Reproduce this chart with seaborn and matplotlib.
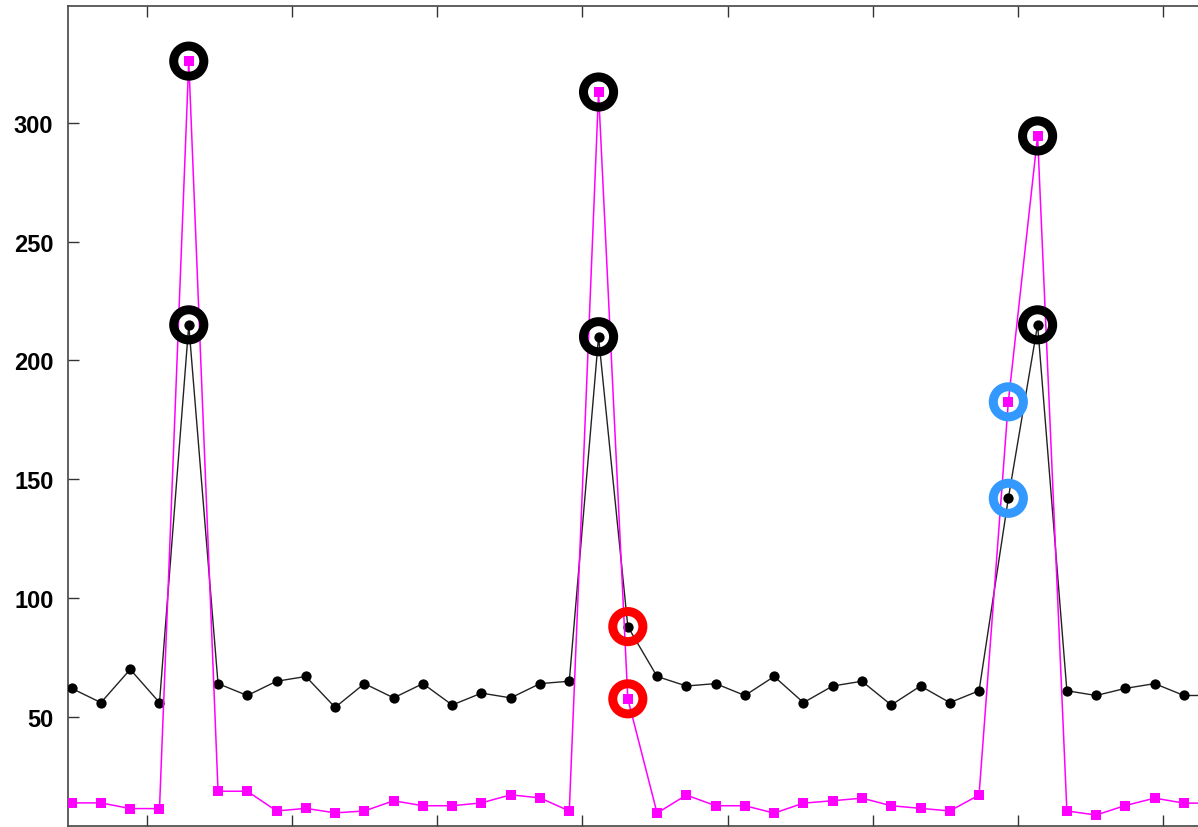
import numpy as np
import matplotlib
matplotlib.use("Agg")
import matplotlib.pyplot as plt
import seaborn as sns

# Two pulse-shaped signals sampled at regular steps
black_vals = [62, 56, 70, 56, 215, 64, 59, 65, 67, 54, 64, 58, 64, 55, 60, 58, 64, 65,
              210, 88, 67, 63, 64, 59, 67, 56, 63, 65, 55, 63, 56, 61, 142, 215, 61, 59,
              62, 64, 59, 59]
magenta_vals = [13.8, 13.8, 11.4, 11.4, 326, 18.7, 18.7, 10.4, 11.5, 9.6, 10.4, 14.7,
                12.6, 12.6, 13.8, 17.2, 15.9, 10.4, 313, 57.6, 9.5, 17.1, 12.6, 12.6, 9.5,
                13.7, 14.7, 15.8, 12.6, 11.5, 10.4, 17.1, 182.6, 294.5, 10.4, 8.7, 12.7,
                15.8, 13.7, 13.7]
samples = list(range(len(black_vals)))

# Highlighted samples: peaks (black), transition (red), rising edge (blue)
peak_idx = [4, 18, 33]
red_idx = [19]
blue_idx = [32]

y_ticks = [50, 100, 150, 200, 250, 300]

sns.set_style("ticks")
plt.rcParams["font.family"] = ["Liberation Sans", "DejaVu Sans"]

fig = plt.figure(figsize=(11.98, 8.28), dpi=100)
ax = fig.add_axes([68 / 1198, 1.3 / 828, 1 - 68 / 1198, (826.7 - 7) / 828])

sns.lineplot(x=samples, y=black_vals, ax=ax, color="#222222", linewidth=1.0,
             marker="o", markersize=7.4, markeredgewidth=0, markerfacecolor="black",
             zorder=3)
sns.lineplot(x=samples, y=magenta_vals, ax=ax, color="#ff00ff", linewidth=1.1,
             marker="s", markersize=7.4, markeredgewidth=0, markerfacecolor="#ff00ff",
             zorder=4)

ring_kw = dict(s=470, facecolors="none", linewidths=6.5, zorder=6, clip_on=False)
for idxs, color in [(peak_idx, "black"), (red_idx, "#ff0000"), (blue_idx, "#3399ff")]:
    for series in (black_vals, magenta_vals):
        ax.scatter([samples[i] for i in idxs], [series[i] for i in idxs],
                   edgecolors=color, **ring_kw)

ax.set_xlim(-0.126, 38.48)
ax.set_ylim(4.2, 349.2)
ax.set_yticks(y_ticks)
ax.set_xticks(np.arange(2.56, 38.4, 4.963))
ax.set_xticklabels([])
ax.tick_params(axis="both", direction="in", length=8, width=1.0, color="#333333",
               top=True, bottom=True, left=True, right=False)
ax.tick_params(axis="y", labelsize=17, pad=10.5, labelcolor="black")
for lbl in ax.get_yticklabels():
    lbl.set_fontweight("bold")
for side in ("left", "top", "bottom"):
    ax.spines[side].set_visible(True)
    ax.spines[side].set_color("#444444")
    ax.spines[side].set_linewidth(1.2)
ax.spines["right"].set_visible(False)
ax.set_xlabel("")
ax.set_ylabel("")
ax.grid(False)
ax.set_facecolor("white")

fig.savefig("out.png", dpi=100, facecolor="white")
